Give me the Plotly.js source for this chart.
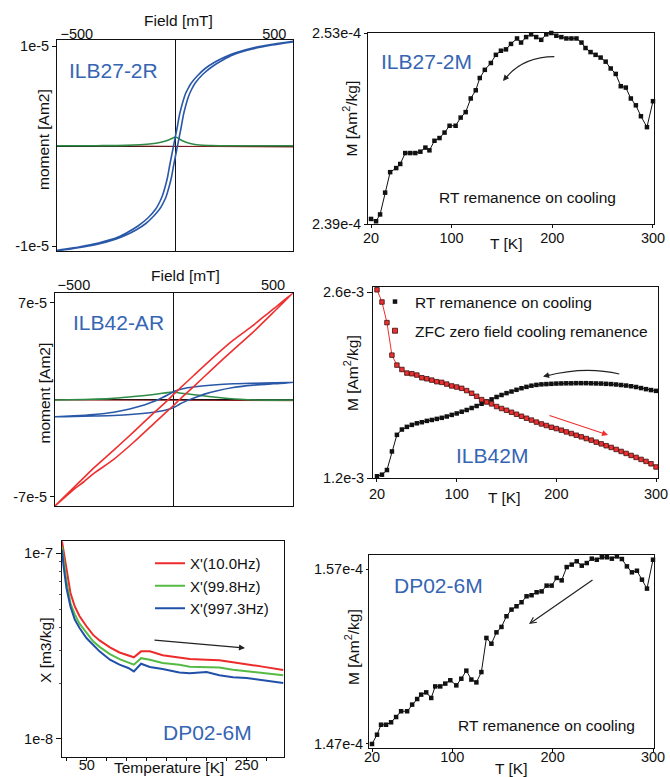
<!DOCTYPE html>
<html><head><meta charset="utf-8">
<script src="https://cdn.plot.ly/plotly-3.0.1.min.js"></script>
<style>html,body{margin:0;padding:0;background:#fff}#chart{width:670px;height:777px}</style>
</head><body><div id="chart"></div>
<script>
// ---------- Panel 1: ILB27-2R hysteresis ----------
const H1_desc = [600,500,400,300,250,200,150,110,90,75,60,50,40,30,20,10,0,-10,-20,-30,-40,-50,-65,-80,-100,-140,-190,-240,-290,-390,-490,-600];
const M1_desc = [1.047e-5,1.02e-5,0.985e-5,0.93e-5,0.89e-5,0.84e-5,0.775e-5,0.70e-5,0.655e-5,0.615e-5,0.56e-5,0.52e-5,0.46e-5,0.39e-5,0.31e-5,0.20e-5,0.10e-5,0,-0.10e-5,-0.20e-5,-0.31e-5,-0.39e-5,-0.49e-5,-0.56e-5,-0.63e-5,-0.72e-5,-0.80e-5,-0.86e-5,-0.91e-5,-0.97e-5,-1.01e-5,-1.043e-5];
const H1_asc = [-600,-500,-400,-300,-250,-200,-150,-110,-90,-75,-60,-50,-40,-30,-20,-10,0,10,20,30,40,50,65,80,100,140,190,240,290,390,490,600];
const M1_asc = [-1.047e-5,-1.02e-5,-0.985e-5,-0.93e-5,-0.89e-5,-0.84e-5,-0.775e-5,-0.70e-5,-0.655e-5,-0.615e-5,-0.56e-5,-0.52e-5,-0.46e-5,-0.39e-5,-0.31e-5,-0.20e-5,-0.10e-5,0,0.10e-5,0.20e-5,0.31e-5,0.39e-5,0.49e-5,0.56e-5,0.63e-5,0.72e-5,0.80e-5,0.86e-5,0.91e-5,0.97e-5,1.01e-5,1.043e-5];
const H1_green = [-600,-400,-250,-180,-120,-80,-50,-30,-15,0,15,30,50,80,120,180,250,400,600];
const M1_green = [0.002e-5,0.003e-5,0.006e-5,0.012e-5,0.022e-5,0.035e-5,0.05e-5,0.065e-5,0.078e-5,0.09e-5,0.075e-5,0.058e-5,0.04e-5,0.022e-5,0.01e-5,0.005e-5,0.003e-5,0.002e-5,0.003e-5];
const H1_red = [-600,-300,0,300,600];
const M1_red = [0.004e-5,0.002e-5,0,-0.006e-5,-0.01e-5];
const ticks1_x = [-500,500];
const ticks1_y = [1e-5,-1e-5];
const labels1_y = ['1e-5','-1e-5'];

// ---------- Panel 2: ILB27-2M ----------
const T2 = [20,25,29,34,39,45,49,54,59,64,69,74,78,83,88,93,98,104,109,114,119,124,128,133,139,144,149,154,159,165,169,174,179,184,189,194,199,204,209,214,219,224,229,233,238,243,248,253,258,263,268,273,278,283,288,294,300];
const M2 = [2.3937e-4,2.392e-4,2.397e-4,2.413e-4,2.428e-4,2.431e-4,2.434e-4,2.442e-4,2.442e-4,2.442e-4,2.443e-4,2.446e-4,2.444e-4,2.451e-4,2.453e-4,2.457e-4,2.462e-4,2.462e-4,2.468e-4,2.472e-4,2.482e-4,2.488e-4,2.497e-4,2.503e-4,2.508e-4,2.514e-4,2.517e-4,2.518e-4,2.522e-4,2.526e-4,2.523e-4,2.527e-4,2.529e-4,2.527e-4,2.525e-4,2.529e-4,2.53e-4,2.528e-4,2.527e-4,2.526e-4,2.526e-4,2.526e-4,2.523e-4,2.519e-4,2.516e-4,2.514e-4,2.512e-4,2.509e-4,2.504e-4,2.5e-4,2.491e-4,2.49e-4,2.482e-4,2.477e-4,2.469e-4,2.461e-4,2.48e-4];
const ticksT = [20,100,200,300];
const ticks2_y = [2.39e-4,2.53e-4];
const labels2_y = ['2.39e-4','2.53e-4'];

// ---------- Panel 3: ILB42-AR hysteresis ----------
const H3_red_desc = [600,500,450,400,300,200,100,50,0,-28,-50,-100,-200,-300,-400,-450,-500,-595];
const M3_red_desc = [7.72e-5,6.55e-5,5.98e-5,5.38e-5,4.32e-5,3.08e-5,1.75e-5,1.08e-5,0.40e-5,0,-0.30e-5,-0.95e-5,-2.3e-5,-3.62e-5,-4.9e-5,-5.6e-5,-6.3e-5,-7.65e-5];
const H3_red_asc = [-595,-500,-450,-400,-300,-200,-100,-50,0,28,50,100,200,300,400,450,500,600];
const M3_red_asc = [-7.65e-5,-6.45e-5,-5.9e-5,-5.3e-5,-4.28e-5,-3.05e-5,-1.72e-5,-1.05e-5,-0.40e-5,0,0.30e-5,0.95e-5,2.3e-5,3.62e-5,4.9e-5,5.6e-5,6.3e-5,7.72e-5];
const H3_blue_desc = [600,500,400,300,200,120,60,20,0,-30,-60,-90,-120,-160,-220,-300,-400,-500,-595];
const M3_blue_desc = [1.26e-5,1.24e-5,1.21e-5,1.17e-5,1.08e-5,0.97e-5,0.85e-5,0.70e-5,0.6e-5,0.36e-5,0.15e-5,-0.05e-5,-0.22e-5,-0.42e-5,-0.65e-5,-0.88e-5,-1.05e-5,-1.15e-5,-1.21e-5];
const H3_blue_asc = [-595,-500,-400,-300,-200,-120,-60,-20,0,30,60,90,120,160,220,300,400,500,600];
const M3_blue_asc = [-1.21e-5,-1.19e-5,-1.16e-5,-1.12e-5,-1.03e-5,-0.92e-5,-0.80e-5,-0.65e-5,-0.55e-5,-0.31e-5,-0.10e-5,0.08e-5,0.24e-5,0.44e-5,0.67e-5,0.9e-5,1.07e-5,1.17e-5,1.26e-5];
const H3_green = [-595,-450,-318,-200,-100,-30,0,30,117,200,335,420,600];
const M3_green = [0,0.04e-5,0.1e-5,0.25e-5,0.4e-5,0.53e-5,0.58e-5,0.5e-5,0.36e-5,0.22e-5,0.05e-5,0,0];
const H3_dred = [-595,0,600];
const M3_dred = [0,0,-0.05e-5];
const ticks3_y = [7e-5,-7e-5];
const labels3_y = ['7e-5','-7e-5'];

// ---------- Panel 4: ILB42M ----------
const T4 = [20,25,30,35,40,45,50,55,60,65,70,75,80,85,90,95,100,105,110,115,120,125,130,135,140,145,150,155,160,165,170,175,180,185,190,195,200,205,210,215,220,225,230,235,240,245,250,255,260,265,270,275,280,285,290,295,300];
const M4_rt = [1.213e-3,1.225e-3,1.26e-3,1.40e-3,1.525e-3,1.565e-3,1.585e-3,1.60e-3,1.612e-3,1.62e-3,1.63e-3,1.637e-3,1.645e-3,1.653e-3,1.663e-3,1.675e-3,1.686e-3,1.699e-3,1.712e-3,1.727e-3,1.742e-3,1.759e-3,1.776e-3,1.792e-3,1.81e-3,1.825e-3,1.839e-3,1.851e-3,1.864e-3,1.876e-3,1.886e-3,1.895e-3,1.901e-3,1.905e-3,1.907e-3,1.909e-3,1.911e-3,1.912e-3,1.913e-3,1.913e-3,1.914e-3,1.914e-3,1.914e-3,1.913e-3,1.912e-3,1.911e-3,1.909e-3,1.907e-3,1.904e-3,1.9e-3,1.896e-3,1.891e-3,1.885e-3,1.877e-3,1.869e-3,1.862e-3,1.856e-3];
const M4_zfc = [2.617e-3,2.525e-3,2.37e-3,2.125e-3,2.05e-3,2.017e-3,1.99e-3,1.985e-3,1.975e-3,1.955e-3,1.947e-3,1.937e-3,1.925e-3,1.92e-3,1.907e-3,1.893e-3,1.885e-3,1.875e-3,1.858e-3,1.838e-3,1.815e-3,1.79e-3,1.772e-3,1.758e-3,1.738e-3,1.723e-3,1.71e-3,1.695e-3,1.68e-3,1.665e-3,1.65e-3,1.636e-3,1.621e-3,1.607e-3,1.595e-3,1.582e-3,1.572e-3,1.56e-3,1.547e-3,1.535e-3,1.522e-3,1.51e-3,1.497e-3,1.485e-3,1.47e-3,1.457e-3,1.443e-3,1.43e-3,1.415e-3,1.4e-3,1.385e-3,1.37e-3,1.355e-3,1.34e-3,1.325e-3,1.307e-3,1.283e-3];
const ticks4_y = [1.2e-3,2.6e-3];
const labels4_y = ['1.2e-3','2.6e-3'];
const legend4Names = ['RT remanence on cooling','ZFC zero field cooling remanence'];

// ---------- Panel 5: DP02-6M AC susceptibility ----------
const T5 = [19,21,24.6,29.6,35,41,49.6,58,66,79,91,102,109,118,129,145,166,179,200,216,233,250,270,296];
const X_10 = [1.156e-7,1.02e-7,8.13e-8,6.10e-8,5.16e-8,4.57e-8,4.04e-8,3.63e-8,3.39e-8,3.11e-8,2.92e-8,2.82e-8,2.75e-8,2.96e-8,2.96e-8,2.82e-8,2.75e-8,2.69e-8,2.67e-8,2.65e-8,2.59e-8,2.53e-8,2.45e-8,2.35e-8];
const X_99 = [1.086e-7,9.2e-8,7.05e-8,5.37e-8,4.68e-8,4.17e-8,3.72e-8,3.35e-8,3.13e-8,2.86e-8,2.69e-8,2.59e-8,2.51e-8,2.72e-8,2.67e-8,2.56e-8,2.51e-8,2.45e-8,2.44e-8,2.42e-8,2.36e-8,2.31e-8,2.26e-8,2.20e-8];
const X_997 = [1.042e-7,8.47e-8,6.49e-8,5.16e-8,4.39e-8,3.95e-8,3.49e-8,3.21e-8,2.96e-8,2.67e-8,2.51e-8,2.41e-8,2.31e-8,2.54e-8,2.44e-8,2.38e-8,2.28e-8,2.26e-8,2.29e-8,2.20e-8,2.15e-8,2.13e-8,2.08e-8,2.00e-8];
const freqNames = ["X'(10.0Hz)","X'(99.8Hz)","X'(997.3Hz)"];
const ticks5_x = [50,250];
const minor5_x = [25,75,100,125,150,175,200,225,275];
const ticks5_y = [1e-8,1e-7];
const labels5_y = ['1e-8','1e-7'];
const minor5_y = [2e-8,3e-8,4e-8,5e-8,6e-8,7e-8,8e-8,9e-8];

// ---------- Panel 6: DP02-6M ----------
const T6 = [20,25,29,34,39,44,49,55,60,65,69,74,79,83,88,93,98,104,109,114,119,124,129,134,139,144,149,154,159,164,169,174,179,184,189,194,199,204,209,214,219,224,229,234,239,244,249,254,259,264,269,274,279,284,289,294,300];
const M6 = [1.47e-4,1.4753e-4,1.481e-4,1.481e-4,1.4824e-4,1.4854e-4,1.4887e-4,1.4887e-4,1.4925e-4,1.4957e-4,1.4982e-4,1.4995e-4,1.4963e-4,1.5029e-4,1.5029e-4,1.5045e-4,1.5064e-4,1.5035e-4,1.5073e-4,1.5119e-4,1.5068e-4,1.5052e-4,1.5111e-4,1.5306e-4,1.5273e-4,1.5338e-4,1.5369e-4,1.543e-4,1.5468e-4,1.5487e-4,1.551e-4,1.5544e-4,1.555e-4,1.5567e-4,1.5572e-4,1.5605e-4,1.5605e-4,1.5649e-4,1.5635e-4,1.5711e-4,1.5725e-4,1.5744e-4,1.5719e-4,1.5734e-4,1.5759e-4,1.5753e-4,1.5767e-4,1.5767e-4,1.5759e-4,1.5772e-4,1.5757e-4,1.5715e-4,1.5681e-4,1.569e-4,1.5639e-4,1.5588e-4,1.5753e-4];
const ticks6_y = [1.47e-4,1.57e-4];
const labels6_y = ['1.47e-4','1.57e-4'];

// ---------- styling / layout ----------
const W = 670, Hh = 777;
const FONT = 'Liberation Sans, Arial, Helvetica, sans-serif';
const BLUE = '#2a58a8', TXTBLUE = '#3565b3', RED = '#ee3030', GREEN = '#2e8b45', DRED = '#8b1c1c', INK = '#111';
const P = x => x / W;
const Q = y => 1 - y / Hh;

function axis(dpx, extra) {
  return Object.assign({
    domain: dpx, showline: true, linecolor: INK, linewidth: 1, mirror: true,
    showgrid: false, zeroline: false, ticks: 'outside', ticklen: 3, tickcolor: INK,
    tickfont: {family: FONT, size: 14.5, color: INK}, fixedrange: true, tickmode: 'array'
  }, extra);
}

const traces = [
  // panel 1
  {x: H1_red, y: M1_red, xaxis: 'x', yaxis: 'y', mode: 'lines', line: {color: DRED, width: 1}, showlegend: false},
  {x: H1_green, y: M1_green, xaxis: 'x', yaxis: 'y', mode: 'lines', line: {color: GREEN, width: 1.6, shape: 'spline'}, showlegend: false},
  {x: H1_desc.concat(H1_asc), y: M1_desc.concat(M1_asc), xaxis: 'x', yaxis: 'y', mode: 'lines', line: {color: BLUE, width: 1.6, shape: 'spline', smoothing: 0.6}, showlegend: false},
  // panel 2
  {x: T2, y: M2, xaxis: 'x2', yaxis: 'y2', mode: 'lines+markers', line: {color: INK, width: 1}, marker: {symbol: 'square', size: 4.5, color: INK}, cliponaxis: false, showlegend: false},
  // panel 3
  {x: H3_dred, y: M3_dred, xaxis: 'x3', yaxis: 'y3', mode: 'lines', line: {color: DRED, width: 1}, showlegend: false},
  {x: H3_green, y: M3_green, xaxis: 'x3', yaxis: 'y3', mode: 'lines', line: {color: GREEN, width: 1.6, shape: 'spline'}, showlegend: false},
  {x: H3_blue_desc.concat(H3_blue_asc), y: M3_blue_desc.concat(M3_blue_asc), xaxis: 'x3', yaxis: 'y3', mode: 'lines', line: {color: BLUE, width: 1.6, shape: 'spline', smoothing: 0.6}, showlegend: false},
  {x: H3_red_desc.concat(H3_red_asc), y: M3_red_desc.concat(M3_red_asc), xaxis: 'x3', yaxis: 'y3', mode: 'lines', line: {color: RED, width: 1.6, shape: 'spline', smoothing: 0.6}, showlegend: false},
  // panel 4
  {x: T4, y: M4_rt, xaxis: 'x4', yaxis: 'y4', mode: 'lines+markers', line: {color: INK, width: 1}, marker: {symbol: 'square', size: 4.5, color: INK}, cliponaxis: false, showlegend: false},
  {x: T4, y: M4_zfc, xaxis: 'x4', yaxis: 'y4', mode: 'lines+markers', line: {color: RED, width: 1}, marker: {symbol: 'square', size: 4.5, color: RED, line: {color: '#3a1010', width: 0.8}}, cliponaxis: false, showlegend: false},
  {x: [null], y: [null], xaxis: 'x4', yaxis: 'y4', mode: 'markers', marker: {symbol: 'square', size: 4.5, color: INK}, name: legend4Names[0], legend: 'legend2', legendgroup: 'a'},
  {x: [null], y: [null], xaxis: 'x4', yaxis: 'y4', mode: 'markers', marker: {symbol: 'square', size: 5, color: RED, line: {color: '#3a1010', width: 0.8}}, name: legend4Names[1], legend: 'legend2', legendgroup: 'b'},
  // panel 5
  {x: T5, y: X_10, xaxis: 'x5', yaxis: 'y5', mode: 'lines', line: {color: '#ee2b2b', width: 2}, name: freqNames[0], legend: 'legend3'},
  {x: T5, y: X_99, xaxis: 'x5', yaxis: 'y5', mode: 'lines', line: {color: '#55bb44', width: 2}, name: freqNames[1], legend: 'legend3'},
  {x: T5, y: X_997, xaxis: 'x5', yaxis: 'y5', mode: 'lines', line: {color: '#2050a8', width: 2}, name: freqNames[2], legend: 'legend3'},
  // panel 6
  {x: T6, y: M6, xaxis: 'x6', yaxis: 'y6', mode: 'lines+markers', line: {color: INK, width: 1}, marker: {symbol: 'square', size: 4.5, color: INK}, cliponaxis: false, showlegend: false}
];

function txt(text, x, y, opts) {
  return Object.assign({text: text, xref: 'paper', yref: 'paper', x: P(x), y: Q(y), showarrow: false,
    xanchor: 'center', yanchor: 'middle', font: {family: FONT, size: 15.5, color: INK}}, opts || {});
}
function label(text, x, y) {
  return txt(text, x, y, {xanchor: 'left', font: {family: FONT, size: 21, color: TXTBLUE}});
}
function ytitle(text, x, y) { return txt(text, x, y, {textangle: -90}); }
function arrow(hx, hy, ax, ay, color, head) {
  return {text: '', xref: 'paper', yref: 'paper', x: P(hx), y: Q(hy), ax: ax, ay: ay, axref: 'pixel', ayref: 'pixel',
    showarrow: true, arrowhead: head, arrowsize: 1, arrowwidth: 1.2, arrowcolor: color, standoff: 0};
}

const annotations = [
  txt('Field [mT]', 178, 21),
  ytitle('moment [Am2]', 43.5, 139.5),
  label('ILB27-2R', 67, 70.5),
  ytitle('M [Am<sup>2</sup>/kg]', 350, 118.5),
  txt('T [K]', 506, 244),
  label('ILB27-2M', 379, 61.5),
  txt('RT remanence on cooling', 437, 198, {xanchor: 'left'}),
  txt('Field [mT]', 185, 275),
  ytitle('moment [Am2]', 43.5, 393),
  label('ILB42-AR', 71, 322.5),
  ytitle('M [Am<sup>2</sup>/kg]', 350.5, 373.5),
  txt('T [K]', 504, 497),
  label('ILB42M', 454, 455),
  ytitle('X [m3/kg]', 45.5, 650.5),
  txt('Temperature [K]', 169, 767.5),
  label('DP02-6M', 161, 732.5),
  ytitle('M [Am<sup>2</sup>/kg]', 352, 647),
  txt('T [K]', 511, 768),
  label('DP02-6M', 392, 585.5),
  txt('RT remanence on cooling', 456, 725, {xanchor: 'left'}),
  arrow(503, 81, 5, -6, '#222', 2),
  arrow(543, 376.5, 8, -2, '#222', 2),
  arrow(608, 435, -60, -20, RED, 2),
  arrow(245, 648, -92, -8, '#222', 2),
  arrow(529, 624, 65, -45, '#222', 5)
];

const shapes = [
  {type: 'path', xref: 'paper', yref: 'paper', path: `M ${P(554.3)},${Q(56.7)} Q ${P(522)},${Q(57)} ${P(505)},${Q(79)}`, line: {color: '#222', width: 1.2}},
  {type: 'path', xref: 'paper', yref: 'paper', path: `M ${P(619.3)},${Q(374)} Q ${P(585)},${Q(366)} ${P(546)},${Q(376)}`, line: {color: '#222', width: 1.2}}
];

const layout = {
  width: W, height: Hh, margin: {l: 0, r: 0, t: 0, b: 0},
  paper_bgcolor: '#fff', plot_bgcolor: '#fff',
  font: {family: FONT, color: INK},
  xaxis: axis([P(57), P(293)], {anchor: 'y', side: 'top', range: [-600, 595], tickvals: ticks1_x, ticks: 'outside', ticklen: 0, ticklabelstandoff: -6, zeroline: true, zerolinecolor: INK, zerolinewidth: 1}),
  yaxis: axis([Q(251), Q(40)], {anchor: 'x', range: [-1.05e-5, 1.06e-5], tickvals: ticks1_y, ticktext: labels1_y, ticklen: 4, zeroline: true, zerolinecolor: INK, zerolinewidth: 1}),
  xaxis2: axis([P(368), P(654)], {anchor: 'y2', range: [17, 301], tickvals: ticksT, ticklabelstandoff: -2}),
  yaxis2: axis([Q(224), Q(33)], {anchor: 'x2', range: [2.39e-4, 2.53e-4], tickvals: ticks2_y, ticktext: labels2_y}),
  xaxis3: axis([P(55), P(293)], {anchor: 'y3', side: 'top', range: [-595, 600], tickvals: ticks1_x, ticks: 'outside', ticklen: 0, ticklabelstandoff: -4, zeroline: true, zerolinecolor: INK, zerolinewidth: 1}),
  yaxis3: axis([Q(506), Q(293)], {anchor: 'x3', range: [-7.65e-5, 7.72e-5], tickvals: ticks3_y, ticktext: labels3_y, ticklen: 4, zeroline: true, zerolinecolor: INK, zerolinewidth: 1}),
  xaxis4: axis([P(373), P(658)], {anchor: 'y4', range: [16, 302], tickvals: ticksT}),
  yaxis4: axis([Q(478), Q(287)], {anchor: 'x4', range: [1.2e-3, 2.638e-3], tickvals: ticks4_y, ticktext: labels4_y, ticklen: 5}),
  xaxis5: axis([P(62), P(284)], {anchor: 'y5', range: [19, 297], tickvals: ticks5_x, ticklabelstandoff: -8, minor: {tickmode: 'array', tickvals: minor5_x, ticks: 'outside', ticklen: 3, tickcolor: INK}}),
  yaxis5: axis([Q(757), Q(541)], {anchor: 'x5', type: 'log', range: [-8.097, -6.935], tickvals: ticks5_y, ticktext: labels5_y, ticklen: 5, minor: {tickmode: 'array', tickvals: minor5_y, ticks: 'outside', ticklen: 2, tickcolor: '#555'}}),
  xaxis6: axis([P(369), P(654)], {anchor: 'y6', range: [17, 301], tickvals: ticksT, ticklabelstandoff: -7}),
  yaxis6: axis([Q(748), Q(555)], {anchor: 'x6', range: [1.4677e-4, 1.578e-4], tickvals: ticks6_y, ticktext: labels6_y, ticklen: 2}),
  legend2: {x: P(375), xanchor: 'left', y: Q(285), yanchor: 'top', bgcolor: 'rgba(0,0,0,0)', font: {family: FONT, size: 15.5, color: INK}, tracegroupgap: 6, itemwidth: 30},
  legend3: {x: P(150), xanchor: 'left', y: Q(547), yanchor: 'top', bgcolor: 'rgba(0,0,0,0)', font: {family: FONT, size: 15, color: INK}, tracegroupgap: 0, itemwidth: 30},
  annotations: annotations,
  shapes: shapes
};

Plotly.newPlot('chart', traces, layout, {displayModeBar: false, staticPlot: true});
</script></body></html>
